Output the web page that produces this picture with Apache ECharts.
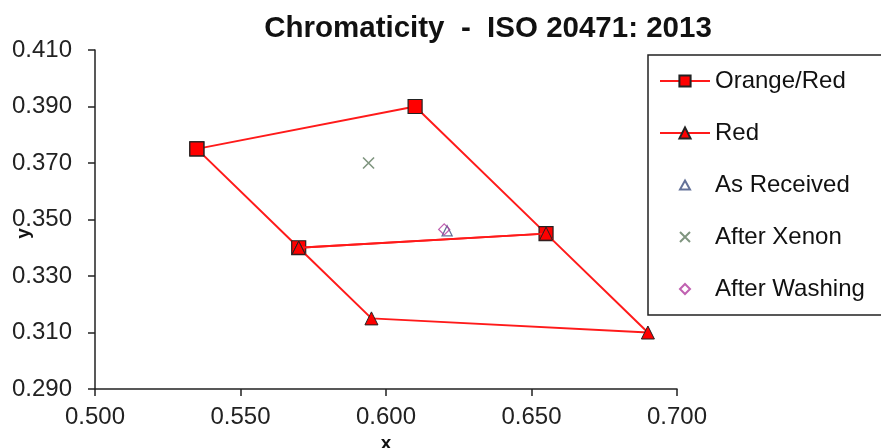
<!DOCTYPE html>
<html>
<head>
<meta charset="utf-8">
<script src="https://cdn.jsdelivr.net/npm/echarts@6/dist/echarts.min.js"></script>
<style>
html,body{margin:0;padding:0;background:#fff;}
#chart{width:881px;height:448px;}
</style>
</head>
<body>
<div id="chart"></div>
<script>
const titleText = 'Chromaticity  -  ISO 20471: 2013';
const xTicks = [0.500, 0.550, 0.600, 0.650, 0.700];
const yTicks = [0.290, 0.310, 0.330, 0.350, 0.370, 0.390, 0.410];
const orangeRedX = [0.535, 0.610, 0.655, 0.570, 0.535];
const orangeRedY = [0.375, 0.390, 0.345, 0.340, 0.375];
const redX = [0.570, 0.655, 0.690, 0.595, 0.570];
const redY = [0.340, 0.345, 0.310, 0.315, 0.340];
const asReceivedX = [0.621];
const asReceivedY = [0.346];
const afterXenonX = [0.594];
const afterXenonY = [0.370];
const afterWashingX = [0.620];
const afterWashingY = [0.3465];
const legendNames = ['Orange/Red', 'Red', 'As Received', 'After Xenon', 'After Washing'];

const zip = (a, b) => a.map((v, i) => [v, b[i]]);
const FONT = '"Liberation Sans", Arial, sans-serif';

const chart = echarts.init(document.getElementById('chart'), null, {renderer: 'canvas'});
chart.setOption({
  animation: false,
  backgroundColor: '#fff',
  title: {
    text: titleText,
    left: 483, top: 9, textAlign: 'center',
    textStyle: {fontFamily: FONT, fontWeight: 'bold', fontSize: 29.5, color: '#111'}
  },
  grid: {left: 95, right: 204, top: 50, bottom: 59, containLabel: false, outerBoundsMode: 'none'},
  xAxis: {
    type: 'value', min: 0.5, max: 0.7, interval: 0.05,
    name: 'x', nameLocation: 'middle', nameGap: 42,
    nameTextStyle: {fontFamily: FONT, fontWeight: 'bold', fontSize: 19, color: '#111'},
    axisLine: {show: true, lineStyle: {color: '#222', width: 1.5}},
    axisTick: {show: true, inside: false, length: 7, lineStyle: {color: '#222', width: 1.5}},
    axisLabel: {fontFamily: FONT, fontSize: 24, color: '#222', margin: 16,
      formatter: v => v.toFixed(3)},
    splitLine: {show: false}
  },
  yAxis: {
    type: 'value', min: 0.29, max: 0.41, interval: 0.02,
    name: 'y', nameLocation: 'middle', nameGap: 62, nameRotate: 90, nameMoveOverlap: false,
    nameTextStyle: {fontFamily: FONT, fontWeight: 'bold', fontSize: 19, color: '#111', padding: [0, 28, 0, 0]},
    axisLine: {show: true, lineStyle: {color: '#222', width: 1.5}},
    axisTick: {show: true, inside: false, length: 7, lineStyle: {color: '#222', width: 1.5}},
    axisLabel: {fontFamily: FONT, fontSize: 24, color: '#222', margin: 23,
      formatter: v => v.toFixed(3)},
    splitLine: {show: false}
  },
  legend: {
    orient: 'vertical', left: 648, top: 55,
    padding: [14, 20, 14, 11],
    borderColor: '#222', borderWidth: 1.5,
    itemWidth: 50, itemHeight: 14, itemGap: 28,
    textStyle: {fontFamily: FONT, fontSize: 24, color: '#111', padding: [0, 0, 0, 0]},
    data: [
      {name: legendNames[0]},
      {name: legendNames[1]},
      {name: legendNames[2], icon: 'path://M0,0M50,14M25,2.5L30,11.5L20,11.5Z'},
      {name: legendNames[3], icon: 'path://M0,0M50,14M20,2L30,12M30,2L20,12'},
      {name: legendNames[4], icon: 'path://M0,0M50,14M25,2L30,7L25,12L20,7Z'}
    ]
  },
  series: [
    {
      name: legendNames[0], type: 'line', data: zip(orangeRedX, orangeRedY),
      symbol: 'rect', symbolSize: 14, showSymbol: true,
      lineStyle: {color: '#ff1a1a', width: 2},
      itemStyle: {color: '#ff0000', borderColor: '#222', borderWidth: 1.2},
      z: 2
    },
    {
      name: legendNames[1], type: 'line', data: zip(redX, redY),
      symbol: 'triangle', symbolSize: 13,
      lineStyle: {color: '#ff1a1a', width: 2},
      itemStyle: {color: '#ff0000', borderColor: '#222', borderWidth: 1},
      z: 3
    },
    {
      name: legendNames[2], type: 'scatter', data: zip(asReceivedX, asReceivedY),
      symbol: 'triangle', symbolSize: 10,
      itemStyle: {color: 'rgba(255,255,255,0)', borderColor: '#3d4f80', borderWidth: 1.3},
      z: 4
    },
    {
      name: legendNames[3], type: 'scatter', data: zip(afterXenonX, afterXenonY),
      symbol: 'path://M0,0L10,10M10,0L0,10', symbolSize: 11,
      itemStyle: {color: 'rgba(255,255,255,0)', borderColor: '#5f7a5f', borderWidth: 1.6},
      z: 4
    },
    {
      name: legendNames[4], type: 'scatter', data: zip(afterWashingX, afterWashingY),
      symbol: 'diamond', symbolSize: 11,
      itemStyle: {color: 'rgba(255,255,255,0)', borderColor: '#b03a9e', borderWidth: 1.3},
      z: 5
    }
  ]
});
</script>
</body>
</html>
